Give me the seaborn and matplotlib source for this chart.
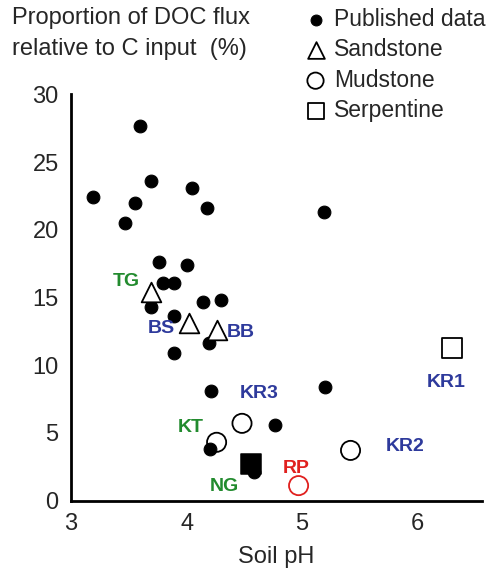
import seaborn as sns
import matplotlib.pyplot as plt
import pandas as pd

# Published data (filled circles)
pub_ph = [3.60, 3.19, 3.47, 3.55, 3.69, 4.05, 4.18, 5.19,
          3.76, 4.00, 3.80, 3.89, 3.69, 4.14, 4.30, 3.89, 4.19, 3.89,
          4.21, 5.20, 4.77, 4.20, 4.58]
pub_doc = [27.7, 22.4, 20.5, 22.0, 23.6, 23.1, 21.6, 21.3,
           17.6, 17.4, 16.1, 16.1, 14.3, 14.7, 14.8, 13.6, 11.6, 10.9,
           8.1, 8.4, 5.6, 3.8, 2.1]

# Sandstone sites (triangles)
sand_site = ["TG", "BS", "BB"]
sand_ph = [3.69, 4.02, 4.26]
sand_doc = [15.4, 13.1, 12.6]

# Mudstone sites (open circles)
mud_site = ["KT", "KR3", "KR2", "RP"]
mud_ph = [4.26, 4.48, 5.42, 4.97]
mud_doc = [4.3, 5.7, 3.7, 1.1]

# Serpentine site (open square) and NG (filled square)
serp_site = ["KR1"]
serp_ph = [6.30]
serp_doc = [11.3]
ng_ph = [4.56]
ng_doc = [2.7]

# Site labels
lab_text = ["TG", "BS", "BB", "KR3", "KT", "NG", "RP", "KR1", "KR2"]
lab_x = [3.48, 3.78, 4.47, 4.63, 4.04, 4.33, 4.95, 6.25, 5.89]
lab_y = [16.2, 12.7, 12.4, 7.9, 5.4, 1.0, 2.4, 8.7, 4.0]
lab_color = ["#228b2e", "#2e3a9c", "#2e3a9c", "#2e3a9c", "#228b2e",
             "#228b2e", "#e0201e", "#2e3a9c", "#2e3a9c"]

pub = pd.DataFrame({"ph": pub_ph, "doc": pub_doc})
sand = pd.DataFrame({"ph": sand_ph, "doc": sand_doc})
mud = pd.DataFrame({"ph": mud_ph, "doc": mud_doc})
serp = pd.DataFrame({"ph": serp_ph, "doc": serp_doc})
ng = pd.DataFrame({"ph": ng_ph, "doc": ng_doc})

sns.set_style("white")
plt.rcParams["font.family"] = ["Liberation Sans", "DejaVu Sans"]

fig = plt.figure(figsize=(4.94, 5.72), dpi=100)
ax = fig.add_axes([0.144, 0.125, 0.832, 0.71])

sns.scatterplot(data=pub, x="ph", y="doc", ax=ax, marker="o", s=85,
                color="black", edgecolor="black", label="Published data", zorder=3)
sns.scatterplot(data=ng, x="ph", y="doc", ax=ax, marker="s", s=190,
                color="black", edgecolor="black", label="_nolegend_", zorder=3)
sns.scatterplot(data=sand, x="ph", y="doc", ax=ax, marker="^", s=200,
                facecolor="white", edgecolor="black", linewidth=1.3,
                label="Sandstone", zorder=4)
sns.scatterplot(data=mud, x="ph", y="doc", ax=ax, marker="o", s=190,
                facecolor="none", edgecolor=["black", "black", "black", "#e0201e"],
                linewidth=1.3, label="Mudstone", zorder=4)
sns.scatterplot(data=serp, x="ph", y="doc", ax=ax, marker="s", s=200,
                facecolor="white", edgecolor="black", linewidth=1.3,
                label="Serpentine", zorder=4)

for t, x, y, c in zip(lab_text, lab_x, lab_y, lab_color):
    ax.text(x, y, t, color=c, fontsize=14, fontweight="bold",
            ha="center", va="center", zorder=5)

ax.set_xlim(3, 6.56)
ax.set_ylim(0, 30)
ax.set_xticks([3, 4, 5, 6])
ax.set_yticks([0, 5, 10, 15, 20, 25, 30])
ax.tick_params(direction="in", length=6, color="#c8c8c8", labelsize=17, pad=9)
ax.set_xlabel("Soil pH", fontsize=17, labelpad=8)
ax.set_ylabel("")
for side in ["top", "right"]:
    ax.spines[side].set_visible(False)
for side in ["left", "bottom"]:
    ax.spines[side].set_linewidth(2)
    ax.spines[side].set_color("black")

fig.text(0.024, 0.987, "Proportion of DOC flux\nrelative to C input  (%)",
         fontsize=17, ha="left", va="top", linespacing=1.5)

leg = ax.legend(loc="upper left", bbox_to_anchor=(0.583, 1.014),
                bbox_transform=fig.transFigure, frameon=False, fontsize=16.5,
                handletextpad=0.3, labelspacing=0.32, borderpad=0.2,
                handlelength=1.0, markerscale=0.85)

fig.savefig("out.png", dpi=100)
